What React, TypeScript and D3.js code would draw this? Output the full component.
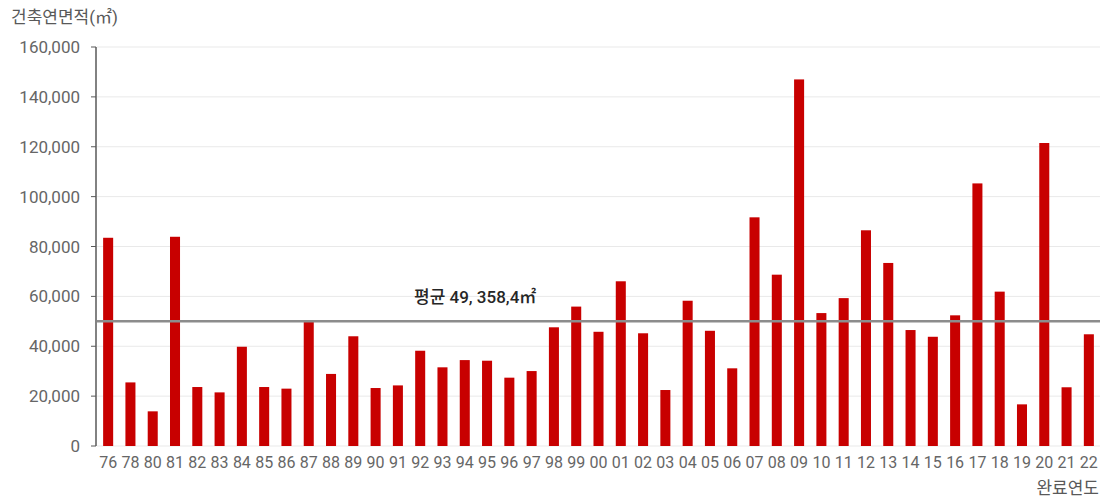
import React from "react";
import * as d3 from "d3";

const years = ["76","78","80","81","82","83","84","85","86","87","88","89","90","91","92","93","94","95","96","97","98","99","00","01","02","03","04","05","06","07","08","09","10","11","12","13","14","15","16","17","18","19","20","21","22"];
const areas = [83500,25500,13900,83900,23650,21500,39800,23650,23000,49850,28900,44000,23250,24300,38200,31550,34450,34200,27400,30050,47600,55900,45800,66050,45200,22450,58250,46200,31150,91700,68700,147000,53300,59300,86500,73400,46500,43800,52400,105300,61900,16700,121500,23550,44800];
const yTicks = [0,20000,40000,60000,80000,100000,120000,140000,160000];
const avgLineValue = 50000;
const avgLabel = "평균 49, 358,4㎡";
const yTitle = "건축연면적(㎡)";
const xTitle = "완료연도";

const W = 1109, H = 501;
const left = 97, right = 1100, top = 47, bottom = 446;
const FONT = "Roboto, 'Noto Sans CJK KR', sans-serif";

export default function App() {
  const x = d3.scaleBand<string>().domain(years).range([left, right]).paddingInner(0.55).paddingOuter(0.275);
  const y = d3.scaleLinear().domain([0, 160000]).range([bottom, top]);
  const fmt = d3.format(",");
  return (
    <svg width={W} height={H} style={{ position: "absolute", left: 0, top: 0, background: "#fff" }}>
      {yTicks.map((t) => (
        <g key={t}>
          <line x1={left} x2={right} y1={y(t)} y2={y(t)} stroke="#e9e9e9" strokeWidth={1} />
          <line x1={91} x2={left - 1} y1={y(t)} y2={y(t)} stroke="#595959" strokeWidth={1} />
          <text x={80} y={y(t)} dy="0.36em" textAnchor="end" fontFamily={FONT} fontSize={17} fill="#666">{fmt(t)}</text>
        </g>
      ))}
      <line x1={96} x2={96} y1={top} y2={bottom} stroke="#595959" strokeWidth={1.5} />
      {years.map((yr, i) => (
        <rect key={yr} x={x(yr)} y={y(areas[i])} width={x.bandwidth()} height={bottom - y(areas[i])} fill="#c80000" />
      ))}
      <line x1={left} x2={right} y1={y(avgLineValue)} y2={y(avgLineValue)} stroke="#8c8c8c" strokeWidth={2.5} />
      <text x={414} y={303} fontFamily={FONT} fontSize={17} fontWeight={500} fill="#262626">{avgLabel}</text>
      {years.map((yr) => (
        <text key={yr} x={(x(yr) as number) + x.bandwidth() / 2} y={468} textAnchor="middle" fontFamily={FONT} fontSize={16} fill="#666">{yr}</text>
      ))}
      <text x={11} y={23} fontFamily={FONT} fontSize={17} fill="#595959">{yTitle}</text>
      <text x={1099} y={494} textAnchor="end" fontFamily={FONT} fontSize={17} fill="#595959">{xTitle}</text>
    </svg>
  );
}
